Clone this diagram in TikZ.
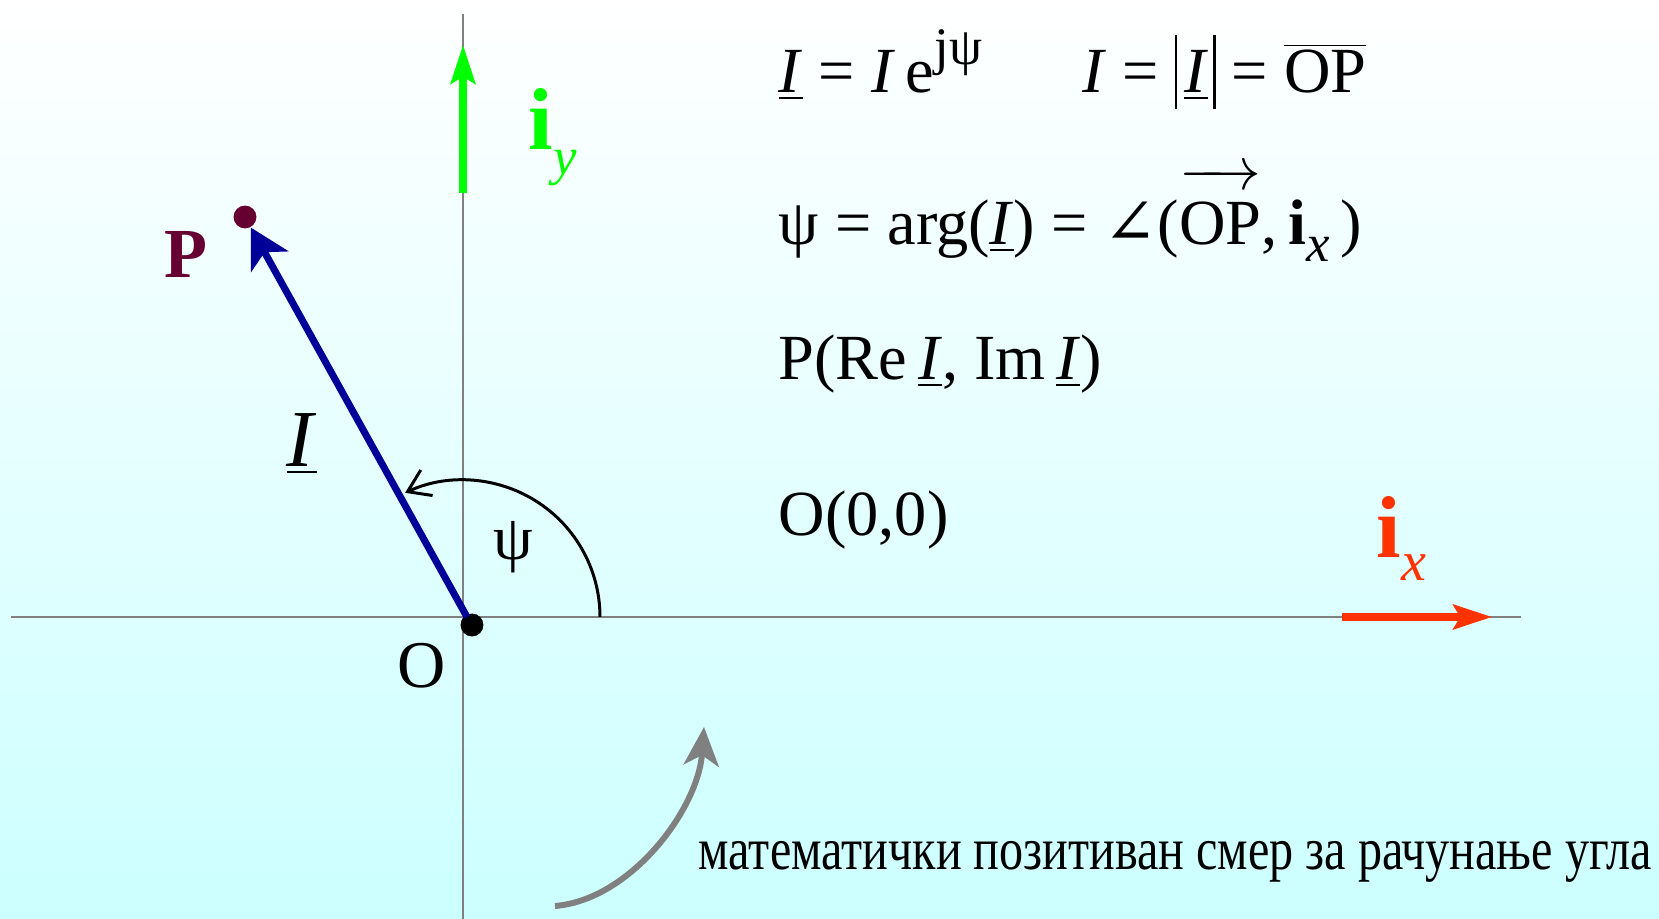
\documentclass[tikz,border=0pt]{standalone}
\usepackage{fontspec}
\setmainfont{Liberation Serif}
\newfontfamily\symfont{DejaVu Serif}
\usepackage{graphicx}
\usetikzlibrary{arrows.meta}

\newcommand{\phasor}[1]{\underline{\textit{#1}}}
\newcommand{\modbar}{\rule[-0.25em]{0.6pt}{1.15em}}

\begin{document}
\begin{tikzpicture}[x=0.01cm,y=-0.01cm,
  axis/.style={draw=axisgray, line width=0.8pt},
  unitvec/.style={line width=2pt, -{Stealth[length=11pt,width=7pt,inset=2pt]}},
  formula/.style={anchor=base west, inner sep=0pt, font=\fontsize{18.3}{22}\selectfont},
  dot/.style={circle, fill, inner sep=0pt, minimum size=6.5pt}]
  \definecolor{axisgray}{RGB}{128,128,128}
  \definecolor{bgcyan}{RGB}{204,255,255}
  \definecolor{vecblue}{RGB}{0,0,153}
  \definecolor{pmaroon}{RGB}{102,0,51}
  \definecolor{iygreen}{RGB}{0,255,0}
  \definecolor{ixred}{RGB}{255,51,0}

  % background
  \shade[top color=white, bottom color=bgcyan] (0,0) rectangle (1659,919);
  \useasboundingbox (0,0) rectangle (1659,919);

  % axes
  \coordinate (xl) at (11,617);
  \coordinate (xr) at (1521,617);
  \coordinate (yt) at (463,14);
  \coordinate (yb) at (463,919);
  \draw[axis] (xl) -- (xr);
  \draw[axis] (yt) -- (yb);

  % unit vectors
  \coordinate (iyfoot) at (463,193);
  \coordinate (iyhead) at (463,45);
  \draw[unitvec, iygreen] (iyfoot) -- (iyhead);
  \coordinate (ixfoot) at (1342,617);
  \coordinate (ixhead) at (1492,617);
  \draw[unitvec, ixred] (ixfoot) -- (ixhead);
  \node[anchor=base west, inner sep=0pt, iygreen, font=\fontsize{25}{25}\selectfont] (iylabel) at (528,150)
    {\textbf{i}\raisebox{-7pt}{\fontsize{15}{15}\selectfont\textit{y}}};
  \node[anchor=base west, inner sep=0pt, ixred, font=\fontsize{25}{25}\selectfont] (ixlabel) at (1376,558)
    {\textbf{i}\raisebox{-6.3pt}{\fontsize{16}{16}\selectfont\textit{x}}};

  % phasor
  \node[dot, pmaroon] (Pdot) at (245,217) {};
  \node[dot] (Odot) at (472,625) {};
  \coordinate (orig) at (467,617);
  \draw[vecblue, line width=2pt, -{Stealth[length=11pt,width=12pt,inset=3pt]}] (orig) -- (Pdot);
  \node[pmaroon, font=\fontsize{20}{20}\selectfont] (plabel) at (186,254) {\textbf{P}};
  \node[anchor=base, inner sep=0pt, font=\fontsize{23}{23}\selectfont] (ilabel) at (302,467) {\phasor{I}};
  \node[anchor=base, inner sep=0pt, font=\fontsize{19}{19}\selectfont] (olabel) at (422,688) {O};

  % angle
  \coordinate (ang0) at (600,617);
  \draw[line width=0.85pt, -{Straight Barb[length=6pt,width=8pt]}] (ang0) arc[start angle=0, end angle=-115, radius=137];
  \node[font=\fontsize{18}{18}\selectfont] (psilabel) at (513,547) {ψ};

  % formulas
  \node[formula] (eqexp) at (778,93)
    {\phasor{I} = \textit{I}\,e\raisebox{0.45em}{\fontsize{15}{15}\selectfont jψ}};
  \node[formula] (eqmod) at (1082,93)
    {\textit{I} = \modbar\hspace{2pt}\phasor{I\/}\hspace{1.5pt}\modbar{} = $\overline{\mbox{OP}}$};
  \node[formula] (eqarg) at (778,245)
    {ψ = arg(\phasor{I}) = {\symfont ∠}($\overrightarrow{\mbox{\rule{0pt}{0.92em}OP}}$,\,\textbf{i}\raisebox{-0.25em}{\fontsize{15}{15}\selectfont\textit{x}}\,)};
  \node[formula] (eqP) at (778,380) {P(Re\,\phasor{I}, Im\,\phasor{I})};
  \node[formula] (eqO) at (778,536) {O(0,0)};

  % direction note
  \coordinate (cstart) at (555,906);
  \coordinate (cend) at (704,727);
  \draw[axisgray, line width=1.7pt, -{Stealth[length=11pt,width=10pt,inset=3pt]}] (cstart) .. controls (630,900) and (698,810) .. (cend);
  \node[anchor=base west, inner sep=0pt, font=\fontsize{17}{20}\selectfont] (note) at (698,870)
    {\scalebox{0.805}[1]{математички позитиван смер за рачунање угла}};
\end{tikzpicture}
\end{document}
